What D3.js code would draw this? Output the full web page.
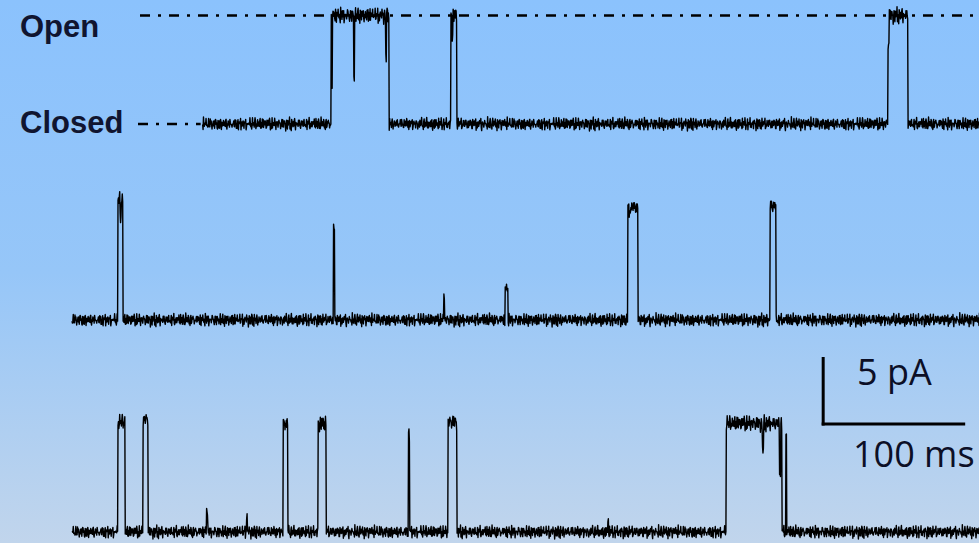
<!DOCTYPE html>
<html>
<head>
<meta charset="utf-8">
<script src="https://cdn.jsdelivr.net/npm/d3@7"></script>
<style>
  html, body { margin: 0; padding: 0; }
  body { width: 979px; height: 543px; overflow: hidden; }
</style>
</head>
<body>
<div class="viz"></div>
<script>
// ---- data (ms, pA) ----
const traceStart = [92, 0, 0];
const traceEnd = 640;

// openings per trace: [start ms, end ms, amplitude pA]
const openings1 = [[182.4, 223.2, 8.1], [266.9, 271.1, 8.1], [574.6, 588.7, 8.1]];
const openings2 = [[32.4, 35.9, 9.0], [304.9, 307.0, 2.3], [391.5, 398.6, 8.4], [491.5, 495.8, 8.5]];
const openings3 = [[32.4, 37.3, 8.2], [50.0, 53.5, 8.4], [148.6, 152.1, 8.1], [173.2, 178.9, 8.1],
                   [264.8, 271.1, 8.2], [460.6, 500.0, 8.1]];

// brief flickers / spikes: [time ms, level pA]
const flickers1 = [[183.0, 2.8], [198.6, 3.5], [221.1, 5.0], [268.0, 6.8], [575.0, 6.0]];
const flickers2 = [[34.2, 7.7], [184.5, 6.9], [262.0, 2.0], [392.5, 7.6]];
const flickers3 = [[95.1, 1.7], [123.2, 1.3], [237.3, 7.3], [377.5, 0.9], [486.6, 6.0], [498.6, 4.4], [503.0, 7.1]];

// baseline noise texture (pA units, hand typed)
const noiseA = [0.3, -0.6, 0.9, -0.2, -0.8, 0.5, 0.1, -0.4, 0.7, -0.9, 0.2, 0.6, -0.3, -0.7, 0.8,
                -0.1, 0.4, -0.5, 1.0, -0.6, 0.0, 0.5, -0.9, 0.3, 0.7, -0.2, -0.4, 0.6, -0.8, 0.2, 0.9];
const noiseB = [-0.4, 0.7, 0.1, -0.8, 0.5, -0.2, 0.9, -0.6, 0.3, -0.1, -0.9, 0.6, 0.2, -0.5,
                0.8, -0.3, 0.4, -0.7, 0.0, 0.6, -0.4, 0.3, -0.6];

const scaleBarPA = 5;
const scaleBarMS = 100;
const scaleBarAt = 529; // ms

// ---- layout ----
const W = 979, H = 543;
const baseY = [124, 320, 532];
const pxPerPA = 13.4;

const svg = d3.select('.viz').append('svg')
  .attr('width', W)
  .attr('height', H);

const defs = svg.append('defs');
const grad = defs.append('linearGradient')
  .attr('id', 'bg').attr('x1', 0).attr('y1', 0).attr('x2', 0).attr('y2', 1);
grad.append('stop').attr('offset', '0%').attr('stop-color', '#8bc2fd');
grad.append('stop').attr('offset', '50%').attr('stop-color', '#96c6f8');
grad.append('stop').attr('offset', '100%').attr('stop-color', '#c1d5ec');

svg.append('rect').attr('width', W).attr('height', H).attr('fill', 'url(#bg)');

const x = d3.scaleLinear().domain([0, traceEnd]).range([72, 72 + traceEnd * 1.42]);
const yScales = baseY.map(b => d3.scaleLinear().domain([0, 5]).range([b, b - 5 * pxPerPA]));

const traces = [
  {start: traceStart[0], open: openings1, flick: flickers1, off: 0},
  {start: traceStart[1], open: openings2, flick: flickers2, off: 11},
  {start: traceStart[2], open: openings3, flick: flickers3, off: 5}
];

const dt = 0.3;

function buildSamples(tr) {
  const pts = [];
  let i = tr.off;
  for (let t = tr.start; t <= traceEnd; t += dt, i++) {
    let level = 0;
    for (const [a, b, amp] of tr.open) if (t >= a && t <= b) level = amp;
    for (const [ft, fl] of tr.flick) if (Math.abs(t - ft) < 0.35) level = fl;
    const n = (noiseA[i % noiseA.length] + noiseB[(i * 3) % noiseB.length]) * 0.29;
    pts.push([t, level + n * (level > 4 ? 1.25 : 1)]);
  }
  return pts;
}

traces.forEach((tr, k) => {
  const y = yScales[k];
  const line = d3.line().x(d => x(d[0])).y(d => y(d[1]));
  svg.append('path')
    .datum(buildSamples(tr))
    .attr('fill', 'none')
    .attr('stroke', '#000')
    .attr('stroke-width', 1.4)
    .attr('stroke-linejoin', 'round')
    .attr('d', line);
});

// open / closed reference lines
const y1 = yScales[0];
const refs = svg.append('g')
  .attr('stroke', '#000')
  .attr('stroke-width', 2.5)
  .attr('stroke-dasharray', '10,8,3,8');
refs.append('line')
  .attr('x1', 140).attr('x2', W)
  .attr('y1', y1(openings1[0][2])).attr('y2', y1(openings1[0][2]));
refs.append('line')
  .attr('x1', 138).attr('x2', x(traceStart[0]) - 2)
  .attr('y1', y1(0)).attr('y2', y1(0));

svg.append('text')
  .attr('x', 20).attr('y', 37)
  .attr('font-family', 'Liberation Sans, Arial, sans-serif')
  .attr('font-weight', 'bold')
  .attr('font-size', 31)
  .attr('fill', '#101530')
  .text('Open');

svg.append('text')
  .attr('x', 20).attr('y', 133)
  .attr('font-family', 'Liberation Sans, Arial, sans-serif')
  .attr('font-weight', 'bold')
  .attr('font-size', 31)
  .attr('fill', '#101530')
  .text('Closed');

// scale bar
const yBar = d3.scaleLinear().domain([0, 5]).range([424, 424 - 5 * pxPerPA]);
const bar = svg.append('g').attr('stroke', '#000').attr('stroke-width', 3);
bar.append('line')
  .attr('x1', x(scaleBarAt)).attr('x2', x(scaleBarAt))
  .attr('y1', yBar(0) + 1.5).attr('y2', yBar(scaleBarPA));
bar.append('line')
  .attr('x1', x(scaleBarAt) - 1.5).attr('x2', x(scaleBarAt + scaleBarMS))
  .attr('y1', yBar(0)).attr('y2', yBar(0));

svg.append('text')
  .attr('x', 857).attr('y', 385)
  .attr('font-family', 'Open Sans, sans-serif')
  .attr('font-size', 36)
  .attr('fill', '#0c0f26')
  .text(`${scaleBarPA} pA`);

svg.append('text')
  .attr('x', 853).attr('y', 467)
  .attr('font-family', 'Open Sans, sans-serif')
  .attr('font-size', 36)
  .attr('fill', '#0c0f26')
  .text(`${scaleBarMS} ms`);
</script>
</body>
</html>
